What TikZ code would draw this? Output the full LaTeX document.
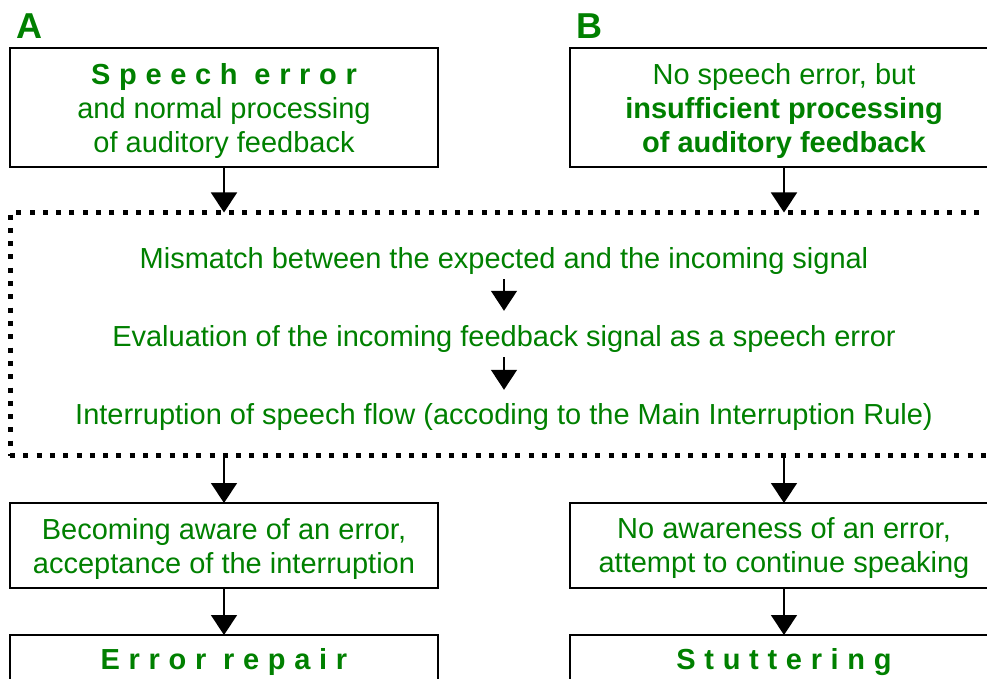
\documentclass[tikz,border=0pt]{standalone}
\usepackage{fontspec}
\setmainfont{Liberation Sans}
\usetikzlibrary{arrows.meta}
\definecolor{txtgreen}{RGB}{0,128,0}

\newcommand{\spaced}[1]{{\bfseries\addfontfeature{LetterSpace=30}#1}}

\begin{document}
\begin{tikzpicture}[x=1pt,y=-1pt,
        box/.style={draw,line width=1.2pt,minimum width=428pt,inner sep=0pt,outer sep=0pt,
            align=center,text depth=0pt,text=txtgreen,font=\fontsize{29}{34}\selectfont},
        stage/.style={text=txtgreen,font=\fontsize{29}{34}\selectfont,inner sep=4.5pt,
            text height=21pt,text depth=6pt},
        flow/.style={line width=1.5pt,-{Triangle[width=26pt,length=20pt]}},
        panel/.style={text=txtgreen,font=\fontsize{36}{40}\selectfont\bfseries,anchor=base,inner sep=0pt}]
        \clip (0,0) rectangle (987,679);

        \node[panel] (labA) at (29,39) {A};
        \node[panel] (labB) at (589,39) {B};

        \node[box,minimum height=119pt] (A1) at (224,107.5)
            {\spaced{Speech error}\\and normal processing\\of auditory feedback};
        \node[box,minimum height=119pt] (B1) at (784,107.5)
            {No speech error, but\\\textbf{insufficient processing}\\\textbf{of auditory feedback}};

        % dotted frame
        \node[draw,line width=5pt,dash pattern=on 5pt off 8.3pt,minimum width=988pt,
            minimum height=243pt,inner sep=0pt,outer sep=0pt] (frame) at (504,334) {};

        \node[stage] (m1) at (504,261) {Mismatch between the expected and the incoming signal};
        \node[stage] (m2) at (504,339) {Evaluation of the incoming feedback signal as a speech error};
        \node[stage] (m3) at (504,417) {Interruption of speech flow (accoding to the Main Interruption Rule)};

        \node[box,minimum height=85pt] (A2) at (224,545.5)
            {Becoming aware of an error,\\acceptance of the interruption};
        \node[box,minimum height=85pt] (B2) at (784,545.5)
            {No awareness of an error,\\attempt to continue speaking};

        \node[box,minimum height=48pt] (A3) at (224,659) {\spaced{Error repair}};
        \node[box,minimum height=48pt] (B3) at (784,659) {\spaced{Stuttering}};

        \draw[flow] (A1.south) -- (A1.south |- frame.north);
        \draw[flow] (B1.south) -- (B1.south |- frame.north);
        \draw[flow,shorten >=10pt] (m1.south) -- (m2.north);
        \draw[flow,shorten >=9pt] (m2.south) -- (m3.north);
        \draw[flow] (A2.north |- frame.south) -- (A2.north);
        \draw[flow] (B2.north |- frame.south) -- (B2.north);
        \draw[flow] (A2.south) -- (A3.north);
        \draw[flow] (B2.south) -- (B3.north);
    \end{tikzpicture}
\end{document}
